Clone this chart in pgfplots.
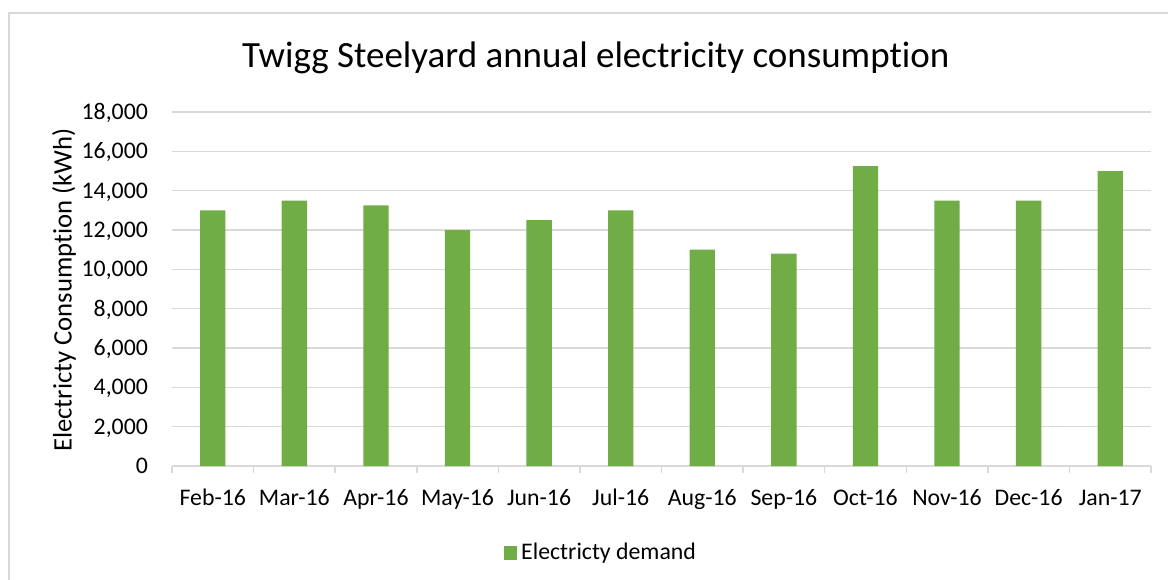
\documentclass[border=0pt]{standalone}
\usepackage{pgfplots}
\pgfplotsset{compat=1.18}
\usepackage{fontspec}
\setmainfont{Carlito}[RawFeature=-liga]
\definecolor{barg}{HTML}{70AD47}
\definecolor{gridc}{HTML}{D9D9D9}
\begin{document}
\begin{tikzpicture}
\useasboundingbox (0,0) rectangle (584pt,289.5pt);
\draw[gridc, line width=1pt] (4.35pt,283pt) rectangle (620pt,-20pt);
\begin{axis}[
  at={(86pt,56.5pt)}, anchor=south west,
  scale only axis, width=489.5pt, height=177pt,
  xmin=-0.5, xmax=11.5, ymin=0, ymax=18000,
  xtick={0,...,11},
  xticklabels={Feb-16,Mar-16,Apr-16,May-16,Jun-16,Jul-16,Aug-16,Sep-16,Oct-16,Nov-16,Dec-16,Jan-17},
  minor xtick={-0.5,0.5,...,11.5},
  tick align=outside,
  major tick length=0pt,
  minor tick length=3.5pt,
  minor x tick style={gridc, line width=0.75pt},
  major x tick style={draw=none},
  ytick={0,2000,...,18000},
  ytick style={draw=none},
  scaled y ticks=false,
  /pgf/number format/.cd, 1000 sep={,}, assume math mode=true, /pgfplots/.cd,
  axis x line*=bottom, axis y line*=left,
  y axis line style={draw=none},
  x axis line style={gridc, line width=0.75pt},
  ymajorgrids, grid style={gridc, line width=0.75pt},
  every tick label/.append style={font=\fontsize{11.9}{14}\selectfont, text=black},
  xticklabel style={anchor=base, inner sep=0pt, yshift=-19.5pt},
  yticklabel style={anchor=base east, inner sep=0pt, xshift=-11.85pt, yshift=-3.75pt},
  every axis title shift=0pt,
  title={Twigg Steelyard annual electricity consumption},
  title style={at={(0.4329,1.1251)}, anchor=base, inner sep=0pt, font=\fontsize{18.5}{22}\selectfont},
  ylabel={Electricty Consumption (kWh)},
  ylabel style={at={(-0.10245,0.4972)}, anchor=base, inner sep=0pt, font=\fontsize{13.35}{16}\selectfont},
  legend style={at={(0.439,-0.2455)}, anchor=center, draw=none, fill=none, font=\fontsize{11.9}{14}\selectfont},
]
\addplot[ybar, bar width=0.31, fill=barg, draw=none,
  legend image code/.code={\fill[barg] (0pt,-3.4pt) rectangle (6.8pt,3.4pt);}]
  coordinates {(0,13000) (1,13500) (2,13250) (3,12000) (4,12500) (5,13000)
               (6,11000) (7,10800) (8,15250) (9,13500) (10,13500) (11,15000)};
\addlegendentry{Electricty demand}
\end{axis}
\end{tikzpicture}
\end{document}
